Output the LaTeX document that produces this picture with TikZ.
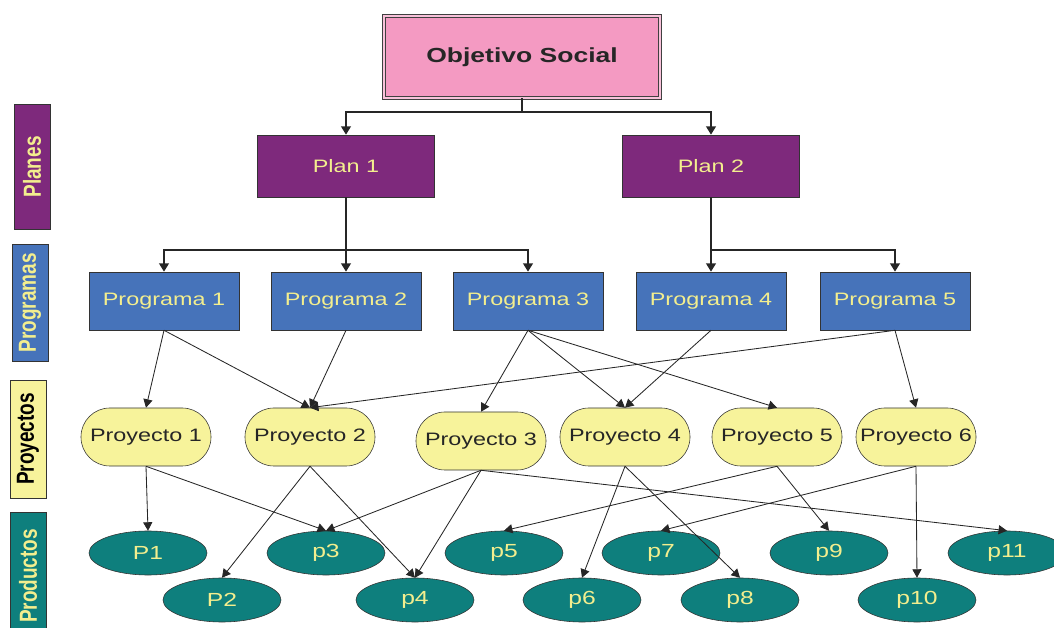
\documentclass[tikz,border=0pt]{standalone}
\usepackage{fontspec}
\setmainfont{Liberation Sans}[FakeStretch=1.3]
\newfontfamily\sidefont{Liberation Sans}
\usetikzlibrary{arrows.meta,shapes.geometric}
\definecolor{objpink}{HTML}{F49AC2}
\definecolor{planpurple}{HTML}{7E297C}
\definecolor{progblue}{HTML}{4673BA}
\definecolor{proyyellow}{HTML}{F7F39B}
\definecolor{prodteal}{HTML}{0E7F7D}
\definecolor{txtyellow}{HTML}{F3EE8E}

\begin{document}
\begin{tikzpicture}[
    x=0.025cm, y=-0.025cm,
    objetivo/.style={rectangle, draw=black!75, fill=objpink, double=objpink!60!white, double distance=1.4pt, line width=0.6pt, minimum width=6.9cm, minimum height=2.05cm, font=\bfseries\fontsize{14.5}{17}\selectfont, text=black!85},
    plan/.style={rectangle, draw=black!80, fill=planpurple, minimum width=4.425cm, minimum height=1.55cm, text=txtyellow, font=\fontsize{12.8}{15}\selectfont},
    programa/.style={rectangle, draw=black!80, fill=progblue, minimum width=3.75cm, minimum height=1.45cm, text=txtyellow, font=\fontsize{12.8}{15}\selectfont},
    proyecto/.style={rectangle, rounded corners=0.72cm, draw=black!80, fill=proyyellow, minimum width=3.25cm, minimum height=1.45cm, inner sep=1pt, text=black!85, font=\fontsize{12.8}{15}\selectfont},
    producto/.style={ellipse, draw=black!80, fill=prodteal, minimum width=2.95cm, minimum height=1.1cm, inner sep=0pt, text=txtyellow, font=\fontsize{13.5}{16}\selectfont},
    nivel/.style={rectangle, draw=black!80, rotate=90, minimum height=0.9cm, font=\sidefont\bfseries\fontsize{13.5}{16}\selectfont},
    tree/.style={line width=1.2pt, black!85},
    treearrow/.style={tree, -{Triangle[length=6pt,width=7pt]}},
    arrow/.style={->, >={Triangle[length=6pt,width=6.5pt]}, line width=0.6pt, black!85}
  ]
  \useasboundingbox (0,0) rectangle (1054,628);

  % niveles
  \node[nivel, fill=planpurple, text=txtyellow, minimum width=3.125cm] (lplanes) at (32,167) {\scalebox{1}[1.3]{Planes}};
  \node[nivel, fill=progblue, text=txtyellow, minimum width=2.925cm] (lprogramas) at (30,303) {\scalebox{1}[1.3]{Programas}};
  \node[nivel, fill=proyyellow, text=black, minimum width=2.95cm] (lproyectos) at (28,439) {\scalebox{1}[1.3]{Proyectos}};
  \node[nivel, fill=prodteal, text=txtyellow, minimum width=3.2cm] (lproductos) at (28,576) {\scalebox{1}[1.3]{Productos}};

  \node[objetivo] (obj) at (522,57) {Objetivo Social};

  \node[plan] (plan1) at (346,166) {Plan 1};
  \node[plan] (plan2) at (711,166) {Plan 2};

  \node[programa] (prog1) at (164,301) {Programa 1};
  \node[programa] (prog2) at (346,301) {Programa 2};
  \node[programa] (prog3) at (528,301) {Programa 3};
  \node[programa] (prog4) at (711,301) {Programa 4};
  \node[programa] (prog5) at (895,301) {Programa 5};

  \node[proyecto] (proy1) at (146,437) {Proyecto 1};
  \node[proyecto] (proy2) at (310,437) {Proyecto 2};
  \node[proyecto] (proy3) at (481,441) {Proyecto 3};
  \node[proyecto] (proy4) at (625,437) {Proyecto 4};
  \node[proyecto] (proy5) at (777,437) {Proyecto 5};
  \node[proyecto, minimum width=3.0cm] (proy6) at (916,437) {Proyecto 6};

  \node[producto] (p1) at (148,553) {P1};
  \node[producto] (p3) at (326,553) {p3};
  \node[producto] (p5) at (504,553) {p5};
  \node[producto] (p7) at (661,553) {p7};
  \node[producto] (p9) at (829,553) {p9};
  \node[producto] (p11) at (1007,553) {p11};
  \node[producto] (p2) at (222,600) {P2};
  \node[producto] (p4) at (415,600) {p4};
  \node[producto] (p6) at (582,600) {p6};
  \node[producto] (p8) at (740,600) {p8};
  \node[producto] (p10) at (917,600) {p10};

  % arbol
  \coordinate (j0) at (522,112);
  \coordinate (j1) at (346,250);
  \coordinate (j2) at (711,250);
  \draw[tree] (obj.south) -- (j0);
  \draw[treearrow] (j0) -| (plan1.north);
  \draw[treearrow] (j0) -| (plan2.north);
  \draw[tree] (plan1.south) -- (j1);
  \draw[treearrow] (j1) -| (prog1.north);
  \draw[treearrow] (j1) -- (prog2.north);
  \draw[treearrow] (j1) -| (prog3.north);
  \draw[treearrow] (plan2.south) -- (prog4.north);
  \draw[treearrow] (j2) -| (prog5.north);

  % programas a proyectos
  \draw[arrow] (prog1.south) -- (proy1.north);
  \draw[arrow] (prog1.south) -- (proy2.north);
  \draw[arrow] (prog2.south) -- (proy2.north);
  \draw[arrow] (prog3.south) -- (proy3.north);
  \draw[arrow] (prog3.south) -- (proy4.north);
  \draw[arrow] (prog3.south) -- (proy5.north);
  \draw[arrow] (prog4.south) -- (proy4.north);
  \draw[arrow] (prog5.south) -- (proy2.north);
  \draw[arrow] (prog5.south) -- (proy6.north);

  % proyectos a productos
  \draw[arrow] (proy1.south) -- (p1.north);
  \draw[arrow] (proy1.south) -- (p3.north);
  \draw[arrow] (proy2.south) -- (p2.north);
  \draw[arrow] (proy2.south) -- (p4.north);
  \draw[arrow] (proy3.south) -- (p3.north);
  \draw[arrow] (proy3.south) -- (p4.north);
  \draw[arrow] (proy3.south) -- (p11.north);
  \draw[arrow] (proy4.south) -- (p6.north);
  \draw[arrow] (proy4.south) -- (p8.north);
  \draw[arrow] (proy5.south) -- (p5.north);
  \draw[arrow] (proy5.south) -- (p9.north);
  \draw[arrow] (proy6.south) -- (p7.north);
  \draw[arrow] (proy6.south) -- (p10.north);

\end{tikzpicture}
\end{document}
